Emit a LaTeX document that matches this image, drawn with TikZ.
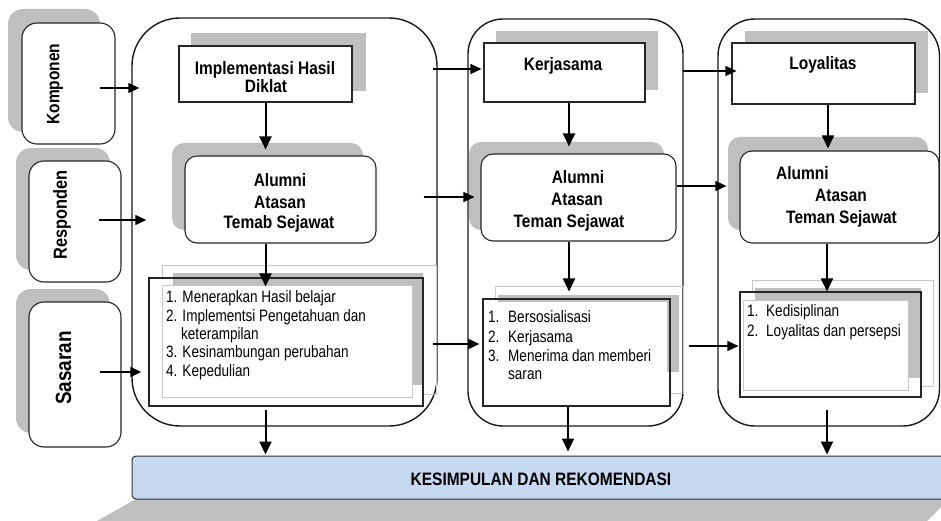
\documentclass[tikz,border=0pt]{standalone}
\usepackage{fontspec}
\setmainfont{Liberation Sans}[FakeStretch=0.82]
\newfontfamily\bfnarrow{Liberation Sans}[FakeStretch=0.86]
\usetikzlibrary{arrows.meta,fit,calc}
\definecolor{shgray}{RGB}{191,191,191}
\definecolor{lgray}{RGB}{200,200,200}
\definecolor{kesblue}{RGB}{198,217,241}
\begin{document}
\begin{tikzpicture}[x=1pt,y=-1pt,
  sq/.style={draw=black!85,line width=1.1pt,inner sep=0pt,fill=white},
  rnd/.style={sq,rounded corners=12pt},
  shd/.style={fill=shgray,draw=none,inner sep=0pt},
  lout/.style={draw=lgray,line width=0.9pt,inner sep=0pt},
  wfill/.style={fill=white,draw=none,inner sep=0pt},
  frame/.style={draw=black!85,line width=1.1pt,inner sep=0pt},
  cont/.style={draw=black!90,line width=1.4pt,inner sep=0pt},
  harr/.style={line width=1.3pt,-{Triangle[length=11pt,width=10pt]}},
  varr/.style={line width=2pt,-{Triangle[length=13pt,width=12pt]}},
  lbl/.style={font=\bfnarrow\fontsize{18}{18}\selectfont\bfseries,inner sep=0pt,anchor=base},
  side/.style={font=\bfnarrow\fontsize{#1}{#1}\selectfont\bfseries,inner sep=0pt,rotate=90},
  itm/.style={font=\fontsize{16.5}{16.5}\selectfont,inner sep=0pt,anchor=base west}]
\useasboundingbox (0,0) rectangle (941,521);
\clip (0,0) rectangle (941,521);

% left side boxes
\node[shd,rounded corners=15pt,fit={(8,9)(100,132)}] (kompS) {};
\node[rnd,rounded corners=15pt,fit={(22,23)(115,144)}] (komp) {};
\node[shd,rounded corners=15pt,fit={(16,148)(110,270)}] (respS) {};
\node[rnd,rounded corners=15pt,fit={(29,161)(121,282)}] (resp) {};
\node[shd,rounded corners=15pt,fit={(16,289)(110,433)}] (sasS) {};
\node[rnd,rounded corners=15pt,fit={(29,302)(121,447)}] (sas) {};
\node[side=18] (tkomp) at (55,84) {Komponen};
\node[side=19] (tresp) at (62,215) {Responden};
\node[side=22] (tsas) at (63.5,368) {Sasaran};

% containers
\node[cont,rounded corners=48pt,fit={(132,18)(437,426)}] (c1) {};
\node[cont,rounded corners=35pt,fit={(468,19)(683,426)}] (c2) {};
\node[cont,rounded corners=37pt,fit={(718,19)(939.5,426)}] (c3) {};

% column 1
\node[shd,fit={(191,33)(366,91)}] (implS) {};
\node[sq,fit={(179,46)(352,102)}] (impl) {};
\node[lbl] (timpl1) at (265,75) {Implementasi Hasil};
\node[lbl] (timpl2) at (266,93) {Diklat};
\node[shd,rounded corners=12pt,fit={(172,143)(363,230)}] (alum1S) {};
\node[rnd,fit={(185,156)(376,243)}] (alum1) {};
\node[lbl] (ta1a) at (280,187) {Alumni};
\node[lbl] (ta1b) at (280,208) {Atasan};
\node[lbl] (ta1c) at (279,229) {Temab Sejawat};
\node[lout,fit={(162,265)(436,394)}] (list1O) {};
\node[wfill,fit={(149,278)(423,406)}] (list1W) {};
\node[shd,fit={(173,273)(423,385)}] (list1S) {};
\node[wfill,draw=lgray,line width=0.6pt,fit={(162,285)(412,397)}] (list1I) {};
\node[frame,fit={(149,278)(423,406)}] (list1) {};
\node[itm] (l1a) at (166,302) {1. Menerapkan Hasil belajar};
\node[itm] (l1b) at (166,321) {2. Implementsi Pengetahuan dan};
\node[itm] (l1c) at (181,339) {keterampilan};
\node[itm] (l1d) at (166,357.5) {3. Kesinambungan perubahan};
\node[itm] (l1e) at (166,376) {4. Kepedulian};

% column 2
\node[shd,fit={(496,31)(658,90)}] (kerjS) {};
\node[sq,fit={(484,43)(645,102)}] (kerj) {};
\node[lbl] (tkerj) at (563,71) {Kerjasama};
\node[shd,rounded corners=12pt,fit={(469,142)(664,230)}] (alum2S) {};
\node[rnd,fit={(481,154)(676,241)}] (alum2) {};
\node[lbl] (ta2a) at (578,184) {Alumni};
\node[lbl] (ta2b) at (577,206) {Atasan};
\node[lbl] (ta2c) at (569,227) {Teman Sejawat};
\node[lout,fit={(495,286)(683,393)}] (list2O) {};
\node[wfill,fit={(483,299)(670,406)}] (list2W) {};
\node[shd,fit={(498,295)(679,372)}] (list2S) {};
\node[wfill,fit={(486,302)(667,403)}] (list2I) {};
\node[frame,fit={(483,299)(670,406)}] (list2) {};
\node[itm] (n2a) at (488,322) {1.};
\node[itm] (l2a) at (508,322) {Bersosialisasi};
\node[itm] (n2b) at (488,342) {2.};
\node[itm] (l2b) at (508,342) {Kerjasama};
\node[itm] (n2c) at (488,361) {3.};
\node[itm] (l2c) at (508,361) {Menerima dan memberi};
\node[itm] (l2d) at (508,379.5) {saran};

% column 3
\node[shd,fit={(745,31)(928,93)}] (loyS) {};
\node[sq,fit={(732,43)(915,104)}] (loy) {};
\node[lbl] (tloy) at (823,70) {Loyalitas};
\node[shd,rounded corners=12pt,fit={(728,137)(928,230)}] (alum3S) {};
\node[rnd,fit={(740,151)(939,243)}] (alum3) {};
\node[lbl,anchor=base west] (ta3a) at (776,180) {Alumni};
\node[lbl,anchor=base west] (ta3b) at (815,202) {Atasan};
\node[lbl,anchor=base west] (ta3c) at (786,223) {Teman Sejawat};
\node[lout,fit={(752,280)(933,386)}] (list3O) {};
\node[wfill,fit={(740,292)(921,397)}] (list3W) {};
\node[shd,fit={(755,288)(921,378)}] (list3S) {};
\node[wfill,draw=lgray,line width=0.6pt,fit={(743,300)(908,390)}] (list3I) {};
\node[frame,fit={(740,292)(921,397)}] (list3) {};
\node[itm] (n3a) at (747,316) {1.};
\node[itm] (l3a) at (766,316) {Kedisiplinan};
\node[itm] (n3b) at (747,336) {2.};
\node[itm] (l3b) at (766,336) {Loyalitas dan persepsi};

% bottom box
\fill[shgray] (136,499) -- (960,499) -- (941,507) -- (927,521) -- (97,521) -- cycle;
\node[draw=black!80,line width=1pt,fill=kesblue,rounded corners=4pt,inner sep=0pt,fit={(132,456)(960,499)}] (kes) {};
\node[lbl] (tkes) at (541,485) {KESIMPULAN DAN REKOMENDASI};

% arrows from left
\draw[harr] ($(komp.east)+(-16,4.5)$) -- ($(komp.east -| c1.west)+(8,4.5)$);
\draw[harr] ($(resp.east)+(-23,-1.5)$) -- ($(resp.east -| c1.west)+(15,-1.5)$);
\draw[harr] ($(sas.east)+(-22,-2.5)$) -- ($(sas.east -| c1.west)+(10,-2.5)$);

% column 1 vertical arrows
\draw[varr,shorten >=6pt] (impl.south) -- (impl.south |- alum1.north);
\draw[varr,shorten >=-9pt] (impl.south |- alum1.south) -- (impl.south |- list1.north);
\draw[varr,shorten <=3pt,shorten >=1pt] (impl.south |- list1.south) -- (impl.south |- kes.north);

% column 1 -> column 2
\draw[harr] ($(kerj.west -| c1.east)+(-5,-3.5)$) -- ($(kerj.west)+(-2,-3.5)$);
\draw[harr] ($(alum2.west -| c1.east)+(-14,-0.5)$) -- ($(alum2.west)+(-6,-0.5)$);
\draw[harr] ($(list2.west -| c1.east)+(-5,-8.5)$) -- ($(list2.west)+(-3,-8.5)$);

% column 2 vertical arrows
\draw[varr,shorten >=7pt] ($(kerj.south)+(4.5,0)$) -- ($(kerj.south |- alum2.north)+(4.5,0)$);
\draw[varr,shorten >=7pt] ($(kerj.south |- alum2.south)+(4.5,0)$) -- ($(kerj.south |- list2.north)+(4.5,0)$);
\draw[varr,shorten >=4pt] ($(kerj.south |- list2.south)+(3.5,0)$) -- ($(kerj.south |- kes.north)+(3.5,0)$);

% column 2 -> column 3
\draw[harr] ($(loy.west -| c2.east)+(-1,-2.5)$) -- ($(loy.west)+(5,-2.5)$);
\draw[harr] ($(alum2.east)+(0,-11.5)$) -- ($(alum3.west)+(-13,-11)$);
\draw[harr] ($(list3.west -| c2.east)+(5,1.5)$) -- ($(list3.west)+(-1,1.5)$);

% column 3 vertical arrows
\draw[varr,shorten >=2pt] ($(loy.south)+(4.5,0)$) -- ($(loy.south |- alum3.north)+(4.5,0)$);
\draw[varr] ($(loy.south |- alum3.south)+(3.5,0)$) -- ($(loy.south |- list3.north)+(3.5,0)$);
\draw[varr,shorten >=1pt] ($(loy.south |- c3.south)+(3.5,-17)$) -- ($(loy.south |- kes.north)+(3.5,0)$);
\end{tikzpicture}
\end{document}
